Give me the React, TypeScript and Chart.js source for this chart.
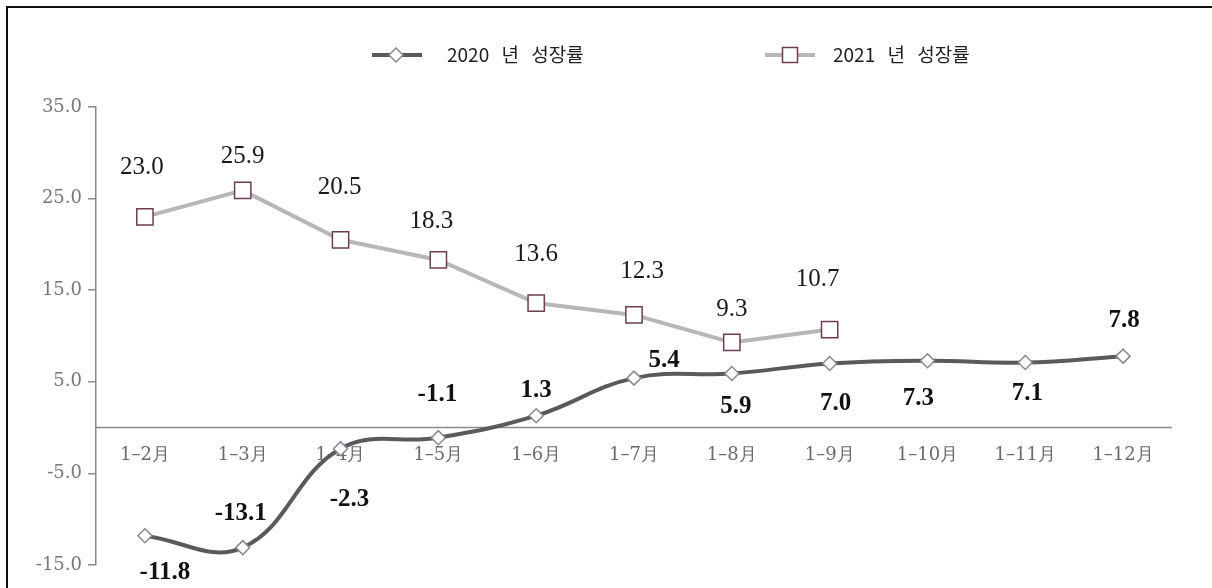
import React, { useEffect, useRef } from "react";
import { Chart, registerables } from "chart.js";

Chart.register(...registerables);

// ---- data ----
const categories = ["1–2月", "1–3月", "1–4月", "1–5月", "1–6月", "1–7月", "1–8月", "1–9月", "1–10月", "1–11月", "1–12月"];
const growth2020 = [-11.8, -13.1, -2.3, -1.1, 1.3, 5.4, 5.9, 7.0, 7.3, 7.1, 7.8];
const growth2021 = [23.0, 25.9, 20.5, 18.3, 13.6, 12.3, 9.3, 10.7];
const seriesNames = ["2020 년 성장률", "2021 년 성장률"];
const yTickValues = [-15, -5, 5, 15, 25, 35];

// ---- label placement (pixel offsets from each point) ----
const offsets2020: [number, number][] = [
  [20, 37], [-2, -34], [9, 51], [-1, -43], [0, -25], [30, -18], [4, 33], [6, 40], [-9, 38], [2, 31], [1, -36],
];
const offsets2021: [number, number][] = [
  [-3, -49], [0, -34], [-1, -52], [-7, -39], [0, -49], [8, -43], [0, -33], [-12, -50],
];

const C2020 = "#5a5a5a";
const C2021 = "#b7b7b7";
const DIAMOND_BORDER = "#8c8696";
const SQUARE_BORDER = "#6e3d55";

function drawDiamond(ctx: CanvasRenderingContext2D, x: number, y: number, r: number) {
  ctx.save();
  ctx.beginPath();
  ctx.moveTo(x, y - r);
  ctx.lineTo(x + r, y);
  ctx.lineTo(x, y + r);
  ctx.lineTo(x - r, y);
  ctx.closePath();
  ctx.fillStyle = "#ffffff";
  ctx.fill();
  ctx.strokeStyle = DIAMOND_BORDER;
  ctx.lineWidth = 1.5;
  ctx.stroke();
  ctx.restore();
}

function drawSquare(ctx: CanvasRenderingContext2D, x: number, y: number, half: number) {
  ctx.save();
  ctx.fillStyle = "#ffffff";
  ctx.fillRect(x - half, y - half, half * 2, half * 2);
  ctx.strokeStyle = SQUARE_BORDER;
  ctx.lineWidth = 1.5;
  ctx.strokeRect(x - half, y - half, half * 2, half * 2);
  ctx.restore();
}

const customPlugin = {
  id: "customDecor",
  beforeDatasetsDraw(chart: any) {
    const ctx: CanvasRenderingContext2D = chart.ctx;
    const { chartArea, scales } = chart;
    const y0 = scales.y.getPixelForValue(0);
    ctx.save();
    ctx.strokeStyle = "#8a8a8a";
    ctx.lineWidth = 1.5;
    ctx.beginPath();
    ctx.moveTo(chartArea.left, y0);
    ctx.lineTo(chartArea.right, y0);
    ctx.stroke();
    ctx.fillStyle = "#6a6a6a";
    ctx.font = '18px "DejaVu Serif"';
    ctx.textAlign = "center";
    ctx.textBaseline = "middle";
    categories.forEach((c, i) => {
      ctx.fillText(c, scales.x.getPixelForValue(i), y0 + 28);
    });
    ctx.restore();
  },
  afterDatasetsDraw(chart: any) {
    const ctx: CanvasRenderingContext2D = chart.ctx;
    const { scales } = chart;
    ctx.save();
    ctx.textAlign = "center";
    ctx.textBaseline = "middle";
    ctx.fillStyle = "#1a1a1a";
    ctx.font = '25px "Liberation Serif"';
    growth2021.forEach((v, i) => {
      const x = scales.x.getPixelForValue(i) + offsets2021[i][0];
      const y = scales.y.getPixelForValue(v) + offsets2021[i][1];
      ctx.fillText(v.toFixed(1), x, y);
    });
    ctx.font = 'bold 25px "Liberation Serif"';
    ctx.fillStyle = "#111111";
    growth2020.forEach((v, i) => {
      const x = scales.x.getPixelForValue(i) + offsets2020[i][0];
      const y = scales.y.getPixelForValue(v) + offsets2020[i][1];
      ctx.fillText(v.toFixed(1), x, y);
    });
    ctx.restore();
  },
  afterDraw(chart: any) {
    const ctx: CanvasRenderingContext2D = chart.ctx;
    ctx.save();
    // frame
    ctx.fillStyle = "#111111";
    ctx.fillRect(6, 6, chart.width - 6, 2);
    ctx.fillRect(6, 6, 2, chart.height - 6);
    // legend
    const ly = 55;
    const items = [
      { x: 372, color: C2020, marker: "diamond", text: seriesNames[0], tx: 447 },
      { x: 765, color: C2021, marker: "square", text: seriesNames[1], tx: 833 },
    ];
    items.forEach((it) => {
      ctx.strokeStyle = it.color;
      ctx.lineWidth = 4;
      ctx.beginPath();
      ctx.moveTo(it.x, ly);
      ctx.lineTo(it.x + 50, ly);
      ctx.stroke();
      if (it.marker === "diamond") drawDiamond(ctx, it.x + 24, ly, 7);
      else drawSquare(ctx, it.x + 25, ly, 7.5);
      ctx.fillStyle = "#1e1e1e";
      ctx.font = '19px "Noto Sans CJK KR"';
      ctx.textAlign = "left";
      ctx.textBaseline = "middle";
      (ctx as any).wordSpacing = "8px";
      ctx.fillText(it.text, it.tx, ly);
      (ctx as any).wordSpacing = "0px";
    });
    ctx.restore();
  },
};

export default function App() {
  const canvasRef = useRef<HTMLCanvasElement | null>(null);

  useEffect(() => {
    if (!canvasRef.current) return;
    const chart = new Chart(canvasRef.current, {
      type: "line",
      data: {
        labels: categories,
        datasets: [
          {
            label: seriesNames[1],
            data: growth2021,
            borderColor: C2021,
            borderWidth: 4,
            tension: 0,
            pointStyle: "rect",
            pointRadius: 11.5,
            pointBackgroundColor: "#ffffff",
            pointBorderColor: SQUARE_BORDER,
            pointBorderWidth: 1.5,
            order: 1,
          },
          {
            label: seriesNames[0],
            data: growth2020,
            borderColor: C2020,
            borderWidth: 4,
            tension: 0.4,
            pointStyle: "rectRot",
            pointRadius: 7,
            pointBackgroundColor: "#ffffff",
            pointBorderColor: DIAMOND_BORDER,
            pointBorderWidth: 1.5,
            order: 2,
          },
        ],
      },
      options: {
        responsive: false,
        animation: false,
        devicePixelRatio: 1,
        layout: { padding: { left: 0, top: 107, right: 40, bottom: 23 } },
        plugins: { legend: { display: false }, tooltip: { enabled: false } },
        scales: {
          x: { type: "category", display: false, offset: true },
          y: {
            min: -15,
            max: 35,
            afterFit: (scale: any) => {
              scale.width = 96;
            },
            afterBuildTicks: (scale: any) => {
              scale.ticks = yTickValues.map((v) => ({ value: v }));
            },
            grid: {
              display: true,
              drawOnChartArea: false,
              drawTicks: true,
              tickLength: 8,
              color: "#8a8a8a",
              lineWidth: 1.5,
            },
            border: { display: true, color: "#8a8a8a", width: 1.5 },
            ticks: {
              padding: 6,
              color: "#777777",
              font: { family: '"DejaVu Serif"', size: 18 },
              callback: (v: any) => Number(v).toFixed(1),
            },
          },
        },
      },
      plugins: [customPlugin],
    });
    return () => chart.destroy();
  }, []);

  return (
    <div style={{ position: "fixed", left: 0, top: 0, width: 1212, height: 588, background: "#ffffff" }}>
      <canvas ref={canvasRef} width={1212} height={588} style={{ display: "block", width: 1212, height: 588 }} />
    </div>
  );
}
